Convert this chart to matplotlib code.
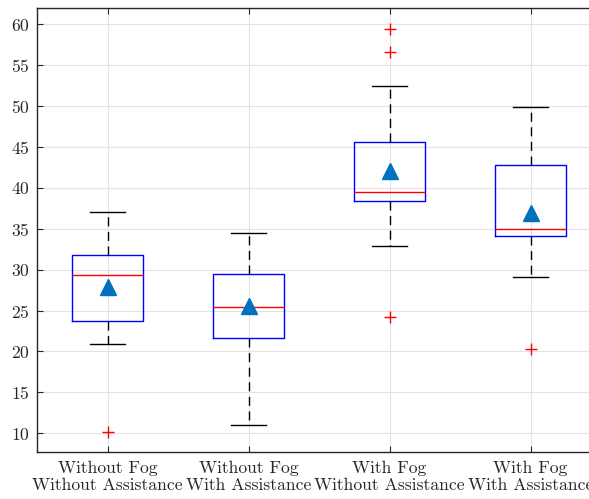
import matplotlib
matplotlib.use('Agg')
import matplotlib.pyplot as plt

# valores
etiquetas = ['Without Fog\nWithout Assistance', 'Without Fog\nWith Assistance',
             'With Fog\nWithout Assistance', 'With Fog\nWith Assistance']
q1 = [23.7, 21.7, 38.4, 34.1]
medianas = [29.3, 25.4, 39.45, 35.0]
q3 = [31.8, 29.45, 45.6, 42.8]
bigote_bajo = [20.85, 11.05, 32.9, 29.05]
bigote_alto = [37.05, 34.5, 52.4, 49.95]
medias = [27.9, 25.5, 42.1, 36.9]
atipicos = [[10.15], [], [59.45, 56.6, 24.25], [20.35]]

plt.rcParams['font.family'] = 'cmr10'
plt.rcParams['axes.formatter.use_mathtext'] = True

fig = plt.figure(figsize=(5.89, 4.99), dpi=100)
ax = fig.add_axes([37/589, 1 - 452/499, 564/589, 444/499])

stats = []
for i in range(len(etiquetas)):
    stats.append({'q1': q1[i], 'med': medianas[i], 'q3': q3[i],
                  'whislo': bigote_bajo[i], 'whishi': bigote_alto[i],
                  'mean': medias[i], 'fliers': atipicos[i], 'label': etiquetas[i]})

ax.bxp(stats, positions=[1, 2, 3, 4], widths=0.5, showmeans=True,
       boxprops=dict(color='#0000ff', linewidth=1.0),
       medianprops=dict(color='#ff0000', linewidth=1.0),
       whiskerprops=dict(color='black', linewidth=1.0, linestyle=(0, (6.5, 4))),
       capprops=dict(color='black', linewidth=1.0),
       capwidths=0.25,
       meanprops=dict(marker='^', markersize=12, markerfacecolor='#0072BD',
                      markeredgecolor='#0072BD'),
       flierprops=dict(marker='+', markersize=8, markeredgecolor='#ff0000',
                       markeredgewidth=1.0))

ax.set_xlim(0.5, 4.5)
ax.set_ylim(7.7, 62)
ax.set_yticks(range(10, 61, 5))
ax.grid(True, color='#e3e3e3', linewidth=0.8)
ax.set_axisbelow(True)

for s in ax.spines.values():
    s.set_color('#262626')
    s.set_linewidth(1.0)
ax.tick_params(direction='in', length=4, colors='#262626', labelsize=12.7,
               top=True, right=True, labelcolor='#262626')
ax.tick_params(axis='x', pad=6)
ax.tick_params(axis='y', pad=5)

fig.savefig('out.png', dpi=100)
